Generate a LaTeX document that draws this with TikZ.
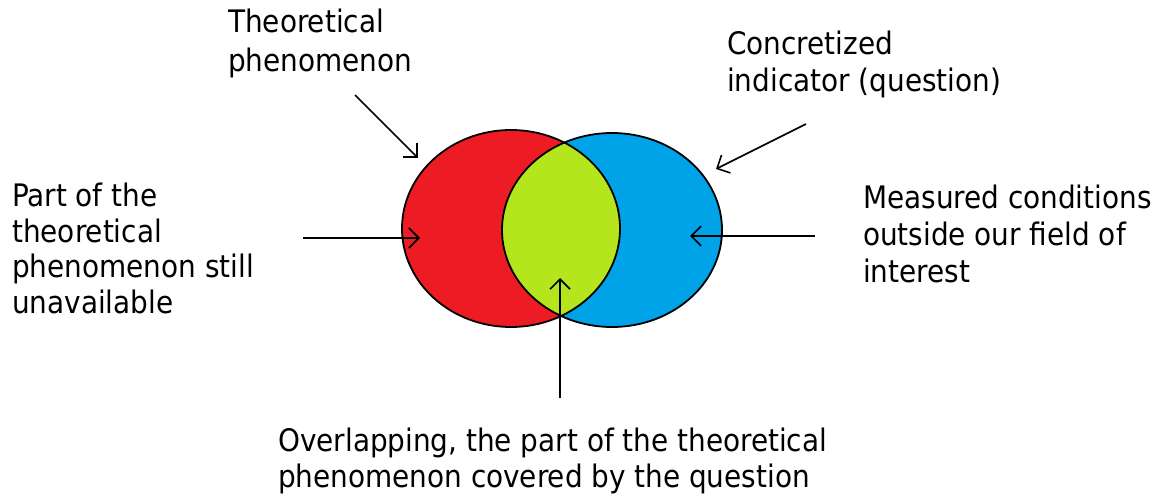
\documentclass[tikz,border=0pt]{standalone}
\usepackage{fontspec}
\setmainfont{DejaVu Sans Condensed}
\usetikzlibrary{arrows.meta}
\definecolor{pred}{HTML}{ED1C24}
\definecolor{pblue}{HTML}{00A2E8}
\definecolor{pgreen}{HTML}{B5E61D}
\tikzset{
  lbl/.style={anchor=base west, inner sep=0pt, align=left, text=black},
  ptr/.style={draw=black, line width=1.6pt, -{Straight Barb[length=10pt,width=20pt,line width=1.6pt]}},
  outline/.style={draw=black, line width=1.8pt}
}
\begin{document}
\begin{tikzpicture}[x=1pt,y=-1pt]
\useasboundingbox (0,0) rectangle (1158,497);
% ellipses
\fill[pred] (511,228.5) ellipse [x radius=109, y radius=98.5];
\fill[pblue] (612,230) ellipse [x radius=110, y radius=97];
\begin{scope}
  \clip (511,228.5) ellipse [x radius=109, y radius=98.5];
  \fill[pgreen] (612,230) ellipse [x radius=110, y radius=97];
\end{scope}
\draw[outline] (511,228.5) ellipse [x radius=109, y radius=98.5];
\draw[outline] (612,230) ellipse [x radius=110, y radius=97];
% labels (anchored at the baseline of their last line)
\node[lbl, font=\fontsize{31}{39}\selectfont] (theo) at (228,72) {Theoretical\\phenomenon};
\node[lbl, font=\fontsize{31}{37}\selectfont] (conc) at (727,92) {Concretized\\indicator (question)};
\node[lbl, font=\fontsize{31}{35.5}\selectfont] (part) at (12,313) {Part of the\\theoretical\\phenomenon still\\unavailable};
\node[lbl, font=\fontsize{31}{37}\selectfont] (meas) at (863,282) {Measured conditions\\outside our field of\\interest};
\node[lbl, font=\fontsize{31}{36}\selectfont] (over) at (278,487) {Overlapping, the part of the theoretical\\phenomenon covered by the question};
% arrow endpoints
\coordinate (a1s) at (355,95);  \coordinate (a1e) at (418,158);
\coordinate (a2s) at (806,124); \coordinate (a2e) at (716,169);
\coordinate (a3s) at (303,238); \coordinate (a3e) at (420,238);
\coordinate (a4s) at (815,236); \coordinate (a4e) at (690,236);
\coordinate (a5s) at (560,398); \coordinate (a5e) at (560,278);
\draw[ptr] (a1s) -- (a1e);
\draw[ptr] (a2s) -- (a2e);
\draw[ptr] (a3s) -- (a3e);
\draw[ptr] (a4s) -- (a4e);
\draw[ptr] (a5s) -- (a5e);
\end{tikzpicture}
\end{document}
